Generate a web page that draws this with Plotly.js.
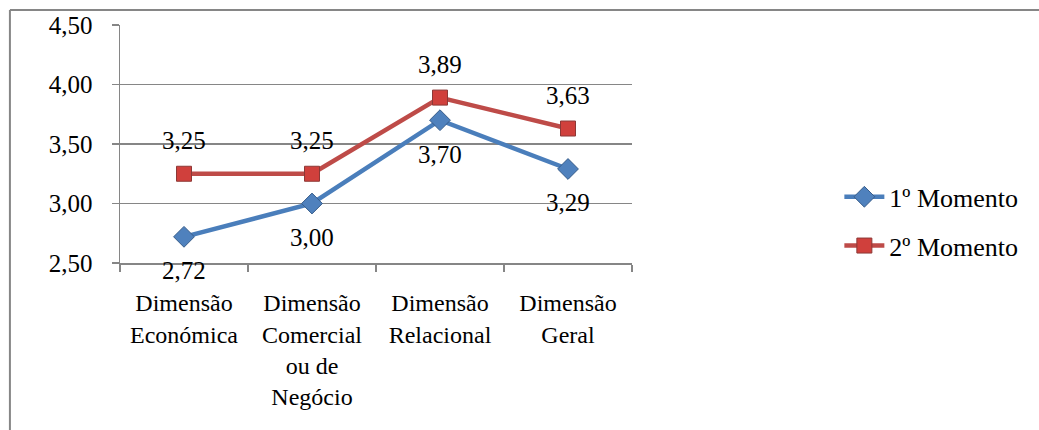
<!DOCTYPE html>
<html>
<head>
<meta charset="utf-8">
<script src="https://cdn.plot.ly/plotly-3.0.1.min.js"></script>
<style>
  html, body { margin: 0; padding: 0; background: #fff; }
  #chart { width: 1039px; height: 430px; }
</style>
</head>
<body>
<div id="chart"></div>
<script>
// Average scores per dimension, two measurement moments
const categories = [
  "Dimensão<br>Económica",
  "Dimensão<br>Comercial<br>ou de<br>Negócio",
  "Dimensão<br>Relacional",
  "Dimensão<br>Geral"
];
const momento1 = [2.72, 3.00, 3.70, 3.29];
const momento2 = [3.25, 3.25, 3.89, 3.63];
const seriesNames = ["1º Momento", "2º Momento"];

const FONT = "Liberation Serif";
const FS = 25;
const GRID = "#868686";
const BLUE = "#4A7EBB";
const RED = "#BE4B48";

const fmt = v => v.toFixed(2).replace(".", ",");

const traces = [
  {
    x: categories, y: momento1, name: seriesNames[0], type: "scatter",
    mode: "lines+markers", legendgroup: "a",
    line: { color: BLUE, width: 4.5 },
    marker: { symbol: "diamond", size: 16, color: "#4F81BD", line: { color: "#385D8A", width: 1 } }
  },
  {
    x: categories, y: momento2, name: seriesNames[1], type: "scatter",
    mode: "lines+markers", legendgroup: "b",
    line: { color: RED, width: 4.5 },
    marker: { symbol: "square", size: 15, color: "#D0403C", line: { color: "#8C3836", width: 1 } }
  }
];

// Value labels: first moment below the points, second moment above
const annotations = [];
momento1.forEach((v, i) => annotations.push({
  x: categories[i], y: v, text: fmt(v), showarrow: false, yshift: -34,
  font: { family: FONT, size: FS, color: "#000" }
}));
momento2.forEach((v, i) => annotations.push({
  x: categories[i], y: v, text: fmt(v), showarrow: false, yshift: 33,
  font: { family: FONT, size: FS, color: "#000" }
}));

const layout = {
  width: 1039, height: 430,
  margin: { l: 120, r: 407, t: 25, b: 167 },
  paper_bgcolor: "#fff", plot_bgcolor: "#fff",
  separators: ",.",
  font: { family: FONT, size: FS, color: "#000" },
  showlegend: true,
  legend: {
    x: 1.405, y: 0.175, xanchor: "left", yanchor: "middle",
    traceorder: "grouped", tracegroupgap: 12, itemwidth: 40,
    font: { family: FONT, size: 26, color: "#000" },
    bgcolor: "rgba(0,0,0,0)"
  },
  xaxis: {
    type: "category", range: [-0.5, 3.5], fixedrange: true,
    tickson: "boundaries", ticks: "outside", ticklen: 7, tickcolor: GRID, tickwidth: 1.5,
    showline: true, linecolor: GRID, linewidth: 1.5,
    showgrid: false, zeroline: false,
    ticklabelstandoff: 18,
    tickfont: { family: FONT, size: 24, color: "#000" }
  },
  yaxis: {
    range: [2.5, 4.5], dtick: 0.5, tick0: 2.5, tickformat: ".2f", fixedrange: true,
    ticks: "outside", ticklen: 7, tickcolor: GRID, tickwidth: 1.5,
    showline: true, linecolor: GRID, linewidth: 1.5,
    showgrid: true, gridcolor: GRID, gridwidth: 1.5, zeroline: false,
    ticklabelstandoff: 14,
    tickfont: { family: FONT, size: FS, color: "#000" }
  },
  annotations: annotations,
  shapes: [
    // chart frame (top and left edges)
    { type: "line", xref: "paper", yref: "paper", x0: -0.215, x1: 2.5, y0: 1.063, y1: 1.063,
      line: { color: GRID, width: 2 } },
    { type: "line", xref: "paper", yref: "paper", x0: -0.215, x1: -0.215, y0: 1.063, y1: -1,
      line: { color: GRID, width: 2 } }
  ]
};

Plotly.newPlot("chart", traces, layout, { displayModeBar: false, staticPlot: true });
</script>
</body>
</html>
